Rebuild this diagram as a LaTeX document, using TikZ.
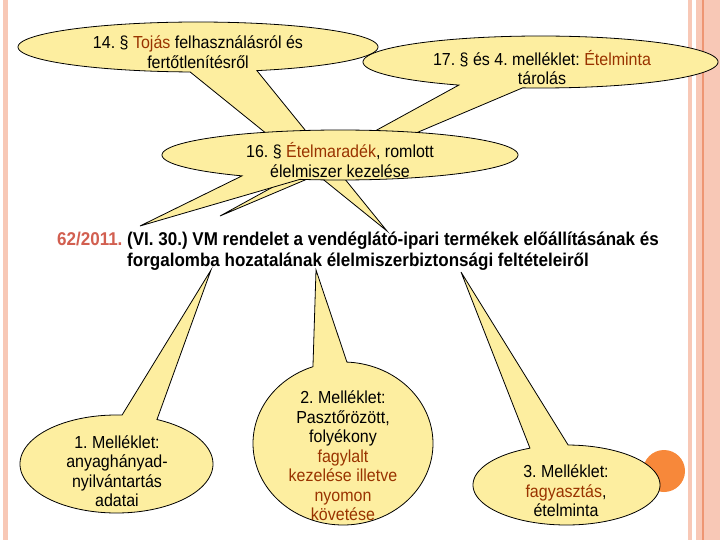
\documentclass[tikz,border=0pt]{standalone}
\usepackage{fontspec}
\setmainfont{Liberation Sans}[FakeStretch=0.92]
\definecolor{bubblefill}{RGB}{253,238,160}
\definecolor{brn}{RGB}{153,51,0}
\definecolor{salmon}{RGB}{210,95,80}
\definecolor{orangedot}{RGB}{247,136,58}
\definecolor{stripe}{RGB}{248,200,182}
\definecolor{stripedark}{RGB}{238,150,115}
\newcommand\drawbubble[8]{%
  \coordinate (#1) at (#2,#3);
  \filldraw[bubble] ({#2+#4*cos(#6)},{#3+#5*sin(#6)}) -- (#8) --
    ({#2+#4*cos(#7)},{#3+#5*sin(#7)}) --
    plot[domain=#7:#6+360, samples=150] ({#2+#4*cos(\x)},{#3+#5*sin(\x)}) -- cycle;
}
\frenchspacing
\begin{document}
\begin{tikzpicture}[x=1pt,y=-1pt,
  bubble/.style={fill=bubblefill, draw=black, line width=0.8pt, line join=miter},
  lbl/.style={align=center, font=\frenchspacing\fontsize{17.4}{19.5}\selectfont, inner sep=0pt},
  ttl/.style={align=center, font=\frenchspacing\bfseries\fontsize{18.5}{21}\selectfont, inner sep=0pt}]
\useasboundingbox (0,0) rectangle (720,540);
\fill[white] (0,0) rectangle (720,540);
% page borders
\fill[stripe] (3,0) rectangle (8,540);
\fill[stripe] (688,0) rectangle (692,540);
\fill[stripe] (696,0) rectangle (720,540);
\fill[stripedark] (702,0) rectangle (703.5,540);
% pointer tips
\coordinate (tipA) at (387,231);
\coordinate (tipB) at (220,216);
\coordinate (tipC) at (140,226);
\coordinate (tipD) at (211,270);
\coordinate (tipE) at (316,270);
\coordinate (tipF) at (461,272);
% orange dot
\fill[orangedot] (664,471) circle[radius=21pt];
% callouts
\drawbubble{bA}{198}{47}{180}{25}{70.9}{92.5}{tipA}
\drawbubble{bB}{540.5}{62}{177.5}{26}{95.8}{117.4}{tipB}
\drawbubble{bC}{340}{155}{178}{25}{103}{123.4}{tipC}
\drawbubble{bD}{116.5}{464}{96.5}{49}{-86.7}{-65.2}{tipD}
\drawbubble{bE}{343}{443.5}{90}{81.5}{-109.5}{-87.5}{tipE}
\drawbubble{bF}{566.5}{485}{93.5}{40}{-113}{-89}{tipF}
% texts
\node[lbl] (tA) at (198,52) {14. § \textcolor{brn}{Tojás} felhasználásról és\\fertőtlenítésről};
\node[lbl] (tB) at (542,67.5) {17. § és 4. melléklet: \textcolor{brn}{Ételminta}\\tárolás};
\node[lbl] (tC) at (340,160) {16. § \textcolor{brn}{Ételmaradék}, romlott\\élelmiszer kezelése};
\node[lbl] (tD) at (117,471) {1. Melléklet:\\anyaghányad-\\nyilvántartás\\adatai};
\node[lbl] (tE) at (343,456) {2. Melléklet:\\Pasztőrözött,\\folyékony\\\textcolor{brn}{fagylalt}\\\textcolor{brn}{kezelése illetve}\\\textcolor{brn}{nyomon}\\\textcolor{brn}{követése}};
\node[lbl] (tF) at (566,491) {3. Melléklet:\\\textcolor{brn}{fagyasztás},\\ételminta};
\node[ttl] (title) at (358,251.5) {\textcolor{salmon}{62/2011.} (VI. 30.) VM rendelet a vendéglátó-ipari termékek előállításának és\\forgalomba hozatalának élelmiszerbiztonsági feltételeiről};
\end{tikzpicture}
\end{document}
